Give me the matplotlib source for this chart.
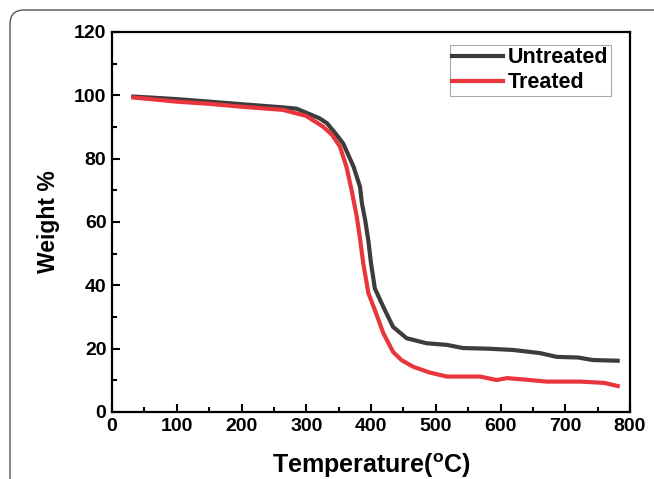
import numpy as np
import matplotlib.pyplot as plt
from matplotlib.patches import FancyBboxPatch
from matplotlib.transforms import IdentityTransform
from matplotlib.ticker import MultipleLocator

''' TGA curves, untreated vs treated '''

plt.rcParams['font.family'] = ['Liberation Sans', 'DejaVu Sans']
plt.rcParams['font.weight'] = 'bold'
plt.rcParams['mathtext.fontset'] = 'custom'
plt.rcParams['mathtext.rm'] = 'Liberation Sans:bold'
plt.rcParams['mathtext.bf'] = 'Liberation Sans:bold'

temp_untreated = [33, 60, 100, 151, 200, 264, 285, 300, 320, 332, 345, 357, 373, 383,
                  386, 391, 396, 400, 406, 419, 434, 455, 486, 517, 542, 580, 619,
                  661, 687, 720, 743, 781]
wt_untreated = [99.6, 99.3, 98.8, 98.0, 97.2, 96.2, 95.8, 94.5, 92.8, 91.2, 88.0, 84.8,
                77.5, 71.1, 65.9, 60.6, 54.0, 47.0, 39.0, 33.2, 26.9, 23.3, 21.7, 21.2,
                20.2, 20.0, 19.6, 18.6, 17.4, 17.2, 16.4, 16.2]

temp_treated = [33, 60, 100, 151, 200, 264, 300, 326, 340, 352, 362, 370, 378, 383,
                388, 396, 406, 419, 434, 447, 465, 490, 517, 568, 594, 610, 640,
                671, 723, 760, 781]
wt_treated = [99.3, 98.8, 98.0, 97.3, 96.4, 95.4, 93.5, 90.1, 87.5, 83.8, 77.5, 70.1,
              61.7, 54.8, 47.0, 37.5, 32.2, 24.9, 19.0, 16.4, 14.3, 12.5, 11.2, 11.2,
              10.1, 10.7, 10.2, 9.6, 9.6, 9.2, 8.2]

fig = plt.figure(figsize=(6.54, 4.79), dpi=100)
ax = fig.add_axes([112 / 654, 67 / 479, 518 / 654, 380 / 479])

ax.plot(temp_untreated, wt_untreated, color='#3c3c3c', lw=3, label='Untreated')
ax.plot(temp_treated, wt_treated, color='#e8363c', lw=3, label='Treated')

ax.set_xlim(0, 800)
ax.set_ylim(0, 120)
ax.xaxis.set_major_locator(MultipleLocator(100))
ax.xaxis.set_minor_locator(MultipleLocator(50))
ax.yaxis.set_major_locator(MultipleLocator(20))
ax.yaxis.set_minor_locator(MultipleLocator(10))
ax.tick_params(which='major', direction='in', length=6, width=1.5, labelsize=14, pad=4)
ax.tick_params(which='minor', direction='in', length=3.5, width=1.5)
for s in ax.spines.values():
    s.set_linewidth(1.6)

ax.set_xlabel(r'Temperature($^{\mathbf{o}}$C)', fontsize=18, fontweight='bold', labelpad=12)
ax.set_ylabel('Weight %', fontsize=16.5, fontweight='bold', labelpad=10)

leg = ax.legend(loc='upper right', bbox_to_anchor=(0.9625, 0.966), borderaxespad=0,
                fontsize=15.5, handlelength=2.35, handletextpad=0.25, borderpad=0.1,
                labelspacing=0.2, fancybox=False, framealpha=1)
leg.get_frame().set_edgecolor('#aaaaaa')
leg.get_frame().set_linewidth(0.8)
for t in leg.get_texts():
    t.set_fontweight('bold')

# rounded frame around the figure
frame = FancyBboxPatch((10, -30), 720, 469 + 30, boxstyle='round,pad=0,rounding_size=14',
                       facecolor='none', edgecolor='#555555', lw=1.0,
                       transform=IdentityTransform(), clip_on=False)
fig.patches.append(frame)

fig.savefig('out.png', dpi=100)
